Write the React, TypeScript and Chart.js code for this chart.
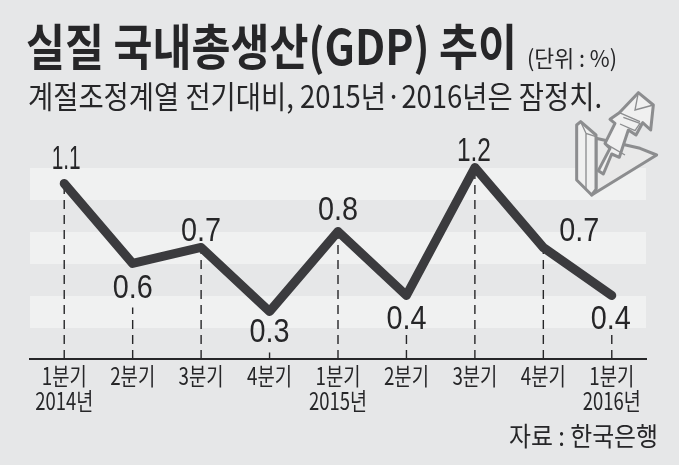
import React, { useEffect, useRef } from "react";
import { Chart, registerables } from "chart.js";

Chart.register(...registerables);

const categories = [
  ["1분기", "2014년"], ["2분기"], ["3분기"], ["4분기"],
  ["1분기", "2015년"], ["2분기"], ["3분기"], ["4분기"],
  ["1분기", "2016년"],
];
const gdpValues = [1.1, 0.6, 0.7, 0.3, 0.8, 0.4, 1.2, 0.7, 0.4];
const valueLabels = ["1.1", "0.6", "0.7", "0.3", "0.8", "0.4", "1.2", "0.7", "0.4"];
const titleText = "실질 국내총생산(GDP) 추이";
const unitText = "(단위 : %)";
const subtitleText = "계절조정계열 전기대비, 2015년·2016년은 잠정치.";
const sourceText = "자료 : 한국은행";

const labelOffsets = [[2, -24], [0, 25], [0, -16], [0, 21], [0, -20.5], [0, 24.5], [-1, -16], [36, -16], [-1, 24.5]];
const dropGaps = [null, 19, null, 20, null, 10, null, null, 10];
const bandEdges = [[0.997, 1.197], [0.597, 0.797], [0.197, 0.397]];

const BG = "#e6e7e8";
const BAND = "#f0f1f1";
const INK = "#262628";
const LINE = "#3b3b3e";
const KR = '"Noto Sans CJK KR", "Noto Sans", sans-serif';
const NUM = '"Liberation Sans", sans-serif';

function fitText(ctx: CanvasRenderingContext2D, text: string, x: number, y: number, w: number, font: string, align: "left" | "center" = "left", color = INK) {
  ctx.save();
  ctx.font = font;
  ctx.fillStyle = color;
  ctx.textBaseline = "middle";
  ctx.textAlign = "left";
  const m = ctx.measureText(text).width;
  const sx = w / m;
  const left = align === "center" ? x - w / 2 : x;
  ctx.translate(left, y);
  ctx.scale(sx, 1);
  ctx.fillText(text, 0, 0);
  ctx.restore();
}

const paperPlugin = {
  id: "paper",
  beforeDraw(chart: any) {
    const { ctx, chartArea, scales } = chart;
    ctx.save();
    ctx.fillStyle = BG;
    ctx.fillRect(0, 0, chart.width, chart.height);
    ctx.fillStyle = BAND;
    for (const [lo, hi] of bandEdges) {
      const top = scales.y.getPixelForValue(hi);
      const bottom = scales.y.getPixelForValue(lo);
      ctx.fillRect(chartArea.left, top, chartArea.right - chartArea.left, bottom - top);
    }
    ctx.restore();
  },
  beforeDatasetsDraw(chart: any) {
    const { ctx, chartArea, scales } = chart;
    ctx.save();
    ctx.strokeStyle = INK;
    ctx.lineWidth = 1.4;
    ctx.setLineDash([9, 6]);
    gdpValues.forEach((v, i) => {
      const x = scales.x.getPixelForValue(i);
      const y = scales.y.getPixelForValue(v);
      const gap = dropGaps[i];
      const top = gap === null ? y : y + labelOffsets[i][1] + gap;
      ctx.beginPath();
      ctx.moveTo(x, chartArea.bottom);
      ctx.lineTo(x, top);
      ctx.stroke();
    });
    ctx.restore();
  },
  afterDraw(chart: any) {
    const { ctx, scales } = chart;
    fitText(ctx, titleText, 26, 46, 491, `bold 49px ${KR}`);
    fitText(ctx, unitText, 527, 58, 90, `23px ${KR}`);
    fitText(ctx, subtitleText, 28, 96, 574, `31px ${KR}`);
    fitText(ctx, sourceText, 509, 436, 149, `26px ${KR}`);
    gdpValues.forEach((v, i) => {
      const x = scales.x.getPixelForValue(i);
      const y = scales.y.getPixelForValue(v);
      const [dx, dy] = labelOffsets[i];
      const txt = valueLabels[i];
      fitText(ctx, txt, x + dx, y + dy, txt === "1.1" ? 29 : txt === "1.2" ? 34 : 40, `34px ${NUM}`, "center");
    });
    categories.forEach((lines, i) => {
      const x = scales.x.getPixelForValue(i);
      lines.forEach((line, k) => {
        fitText(ctx, line, x, 376 + k * 24.5, k === 0 ? 45 : 58, `24px ${KR}`, "center");
      });
    });
  },
};

export default function App() {
  const ref = useRef<HTMLCanvasElement>(null);
  useEffect(() => {
    document.body.style.margin = "0";
    document.body.style.background = BG;
    const chart = new Chart(ref.current!, {
      type: "line",
      data: {
        labels: categories as any,
        datasets: [{
          data: gdpValues,
          borderColor: LINE,
          borderWidth: 9,
          borderCapStyle: "round",
          borderJoinStyle: "round",
          pointRadius: 0,
          tension: 0,
          clip: false as any,
        }],
      },
      options: {
        animation: false,
        responsive: false,
        layout: { padding: { left: 30, right: 33, top: 0, bottom: 106 } },
        plugins: { legend: { display: false }, tooltip: { enabled: false } },
        scales: {
          x: {
            offset: true,
            grid: { display: false, drawTicks: false },
            border: { display: true, color: INK, width: 2 },
            ticks: { display: false },
          },
          y: { display: false, min: 0.003, max: 2.247 },
        },
      },
      plugins: [paperPlugin as any],
    });
    return () => chart.destroy();
  }, []);
  return (
    <div style={{ position: "relative", width: 679, height: 465, overflow: "hidden" }}>
      <canvas ref={ref} width={679} height={465} style={{ display: "block" }} />
      <svg width={119} height={120} viewBox="0 0 357 360" style={{ position: "absolute", left: 560, top: 80 }}>
        <g stroke="#8c8d8f" strokeWidth={9} strokeLinejoin="round" fill="#f0f0f0">
          <polygon points="108,325 108,175 240,205 290,225 95,345" fill="#e9e9e9" />
          <polygon points="50,135 62,125 108,165 108,328 95,345 50,300" />
          <polygon points="115,272 150,205 135,190 165,130 150,118 178,98 235,38 280,75 272,150 248,128 228,165 205,150 178,232 155,222 130,282" />
        </g>
        <g stroke="#8c8d8f" strokeWidth={4} fill="none">
          <path d="M62,125 L78,160 L78,330 M78,160 L108,170 M178,98 L240,125 M235,38 L225,90 L280,75 M135,190 L195,225 M190,112 L240,130 L225,152 L180,132" />
        </g>
      </svg>
    </div>
  );
}
